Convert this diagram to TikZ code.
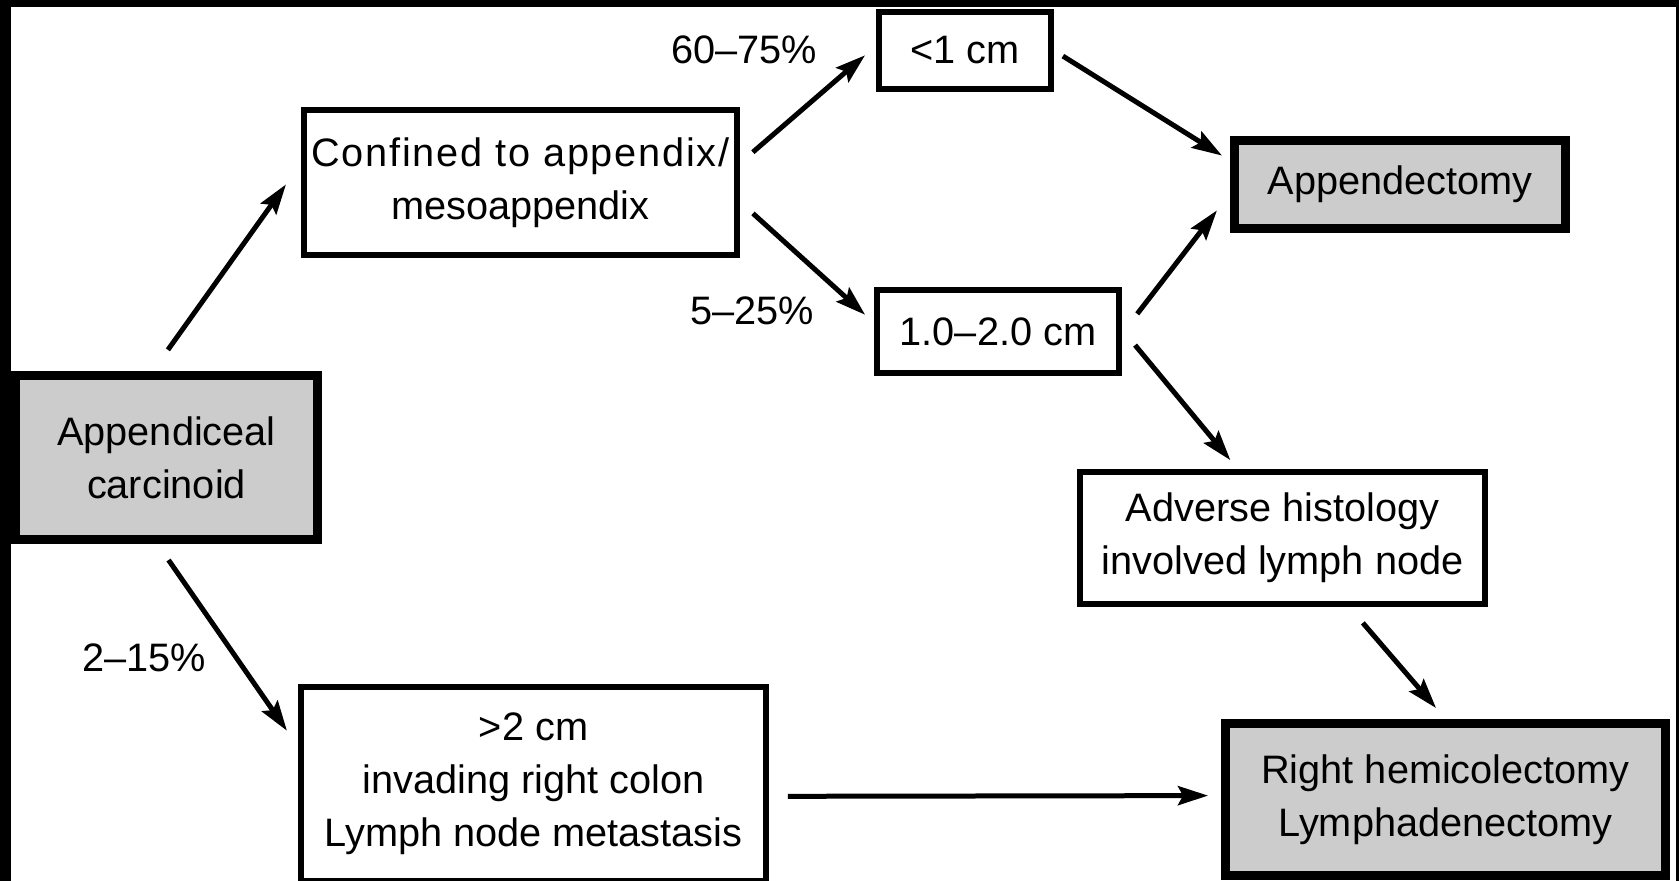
\documentclass[tikz,border=0pt]{standalone}
\usepackage{fontspec}
\setmainfont{Liberation Sans}
\usetikzlibrary{arrows.meta}

\begin{document}
\begin{tikzpicture}[x=0.02cm, y=-0.02cm,
        box/.style={draw, line width=0.12cm, fill=white, align=center, inner sep=0pt,
            font=\fontsize{22.6}{30.2}\selectfont},
        endbox/.style={box, line width=0.18cm, fill=gray!40},
        pct/.style={font=\fontsize{22.6}{30.2}\selectfont},
        arr/.style={-{Stealth[length=0.6cm, width=0.38cm, inset=0.1cm]}, line width=0.1cm}]
            \useasboundingbox (0,0) rectangle (1679,881);
            \fill[black] (0,0) rectangle (1679,881);
            \fill[white] (11,7) rectangle (1676,895);

            \node[endbox, minimum width=6.04cm, minimum height=3.28cm] at (166.5, 457.5) (carc) {Appendiceal\\carcinoid};
            \node[box, minimum width=8.66cm, minimum height=2.9cm] at (520.5, 182.5) (conf) {{\addfontfeature{LetterSpace=4.5}Confined to appendix/}\\mesoappendix};
            \node[box, minimum width=3.44cm, minimum height=1.54cm] at (965, 50.5) (small) {<1 cm};
            \node[box, minimum width=4.84cm, minimum height=1.66cm] at (998, 331.5) (mid) {1.0–2.0 cm};
            \node[endbox, minimum width=6.62cm, minimum height=1.76cm] at (1400, 184.5) (appy) {Appendectomy};
            \node[box, minimum width=8.1cm, minimum height=2.64cm] at (1282.5, 538) (adv) {Adverse histology\\involved lymph node};
            \node[box, minimum width=9.3cm, minimum height=3.88cm] at (533.5, 784) (big) {>2 cm\\invading right colon\\Lymph node metastasis};
            \node[endbox, minimum width=8.8cm, minimum height=3.04cm] at (1445.5, 799.5) (hemi) {Right hemicolectomy\\Lymphadenectomy};

            \node[pct] at (744, 50) (p60) {60–75\%};
            \node[pct] at (752, 311) (p5) {5–25\%};
            \node[pct] at (144, 658) (p2) {2–15\%};

            \draw [arr, shorten <=0.52cm, shorten >=0.52cm] (carc.99) -- (conf.175);
            \draw [arr, shorten <=0.39cm, shorten >=0.39cm] (carc.264) -- (big.171);
            \draw [arr, shorten <=0.34cm, shorten >=0.29cm] (conf.5) -- (small.177);
            \draw [arr, shorten <=0.35cm, shorten >=0.24cm] (conf.-5) -- (mid.176);
            \draw [arr, shorten <=0.21cm, shorten >=0.19cm] (small.0) -- (appy.172);
            \draw [arr, shorten <=0.5cm, shorten >=0.43cm] (mid.359) -- (appy.183);
            \draw [arr, shorten <=0.41cm, shorten >=0.23cm] (mid.1) -- (adv.123);
            \draw [arr, shorten <=0.42cm, shorten >=0.29cm] (adv.314) -- (hemi.north);
            \draw [arr, shorten <=0.38cm, shorten >=0.26cm] (big.357) -- (hemi.179);
        \end{tikzpicture}
\end{document}
